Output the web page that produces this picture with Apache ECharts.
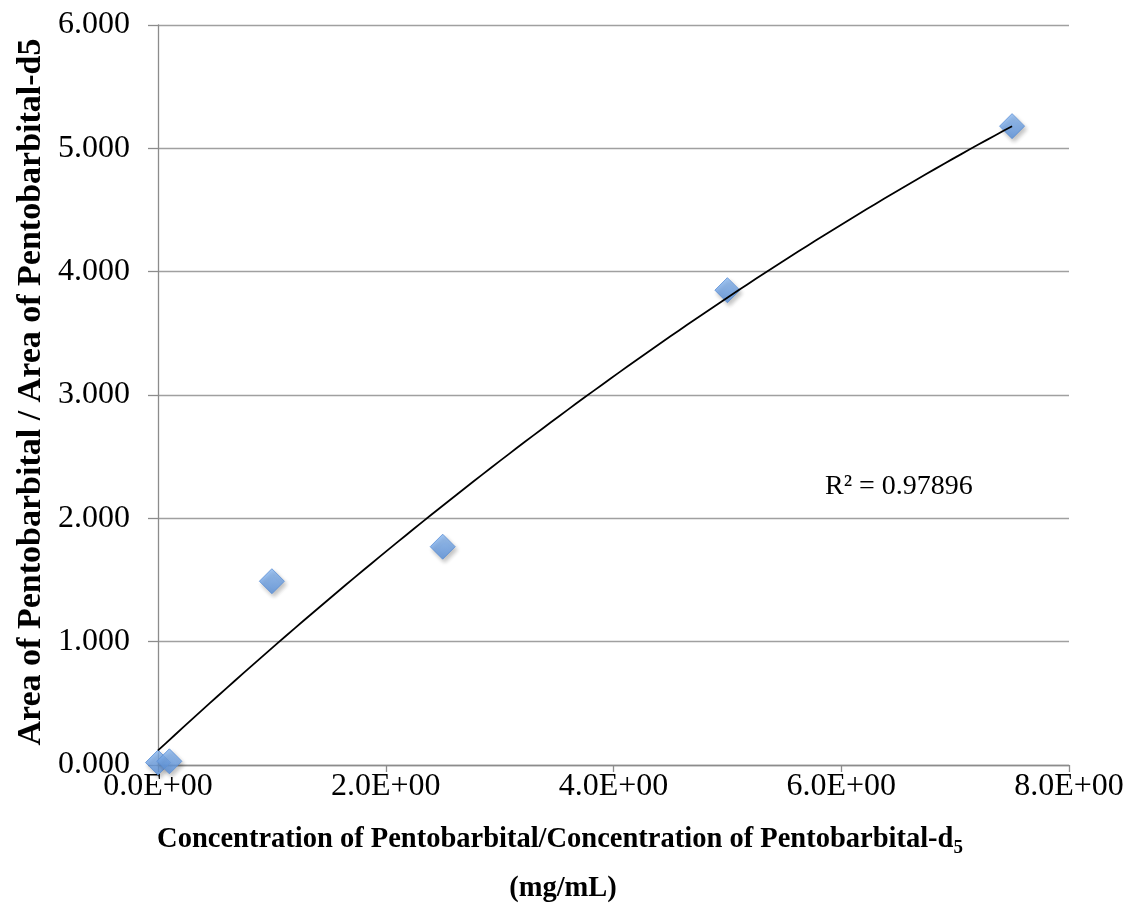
<!DOCTYPE html>
<html><head><meta charset="utf-8">
<script src="https://cdn.jsdelivr.net/npm/echarts@6/dist/echarts.min.js"></script>
<style>html,body{margin:0;padding:0;background:#fff}#c{width:1127px;height:920px}</style>
</head><body><div id="c"></div>
<script>
const xValues = [0, 0.1, 1.0, 2.5, 5.0, 7.5];
const yValues = [0.02, 0.03, 1.49, 1.77, 3.85, 5.18];
const xTickLabels = ['0.0E+00', '2.0E+00', '4.0E+00', '6.0E+00', '8.0E+00'];
const rSquaredText = 'R² = 0.97896';
const xTitleMain = 'Concentration of Pentobarbital/Concentration of Pentobarbital-d';
const xTitleSub = '5';
const xTitleLine2 = '(mg/mL)';
const yTitle = 'Area of Pentobarbital / Area of Pentobarbital-d5';

// least-squares quadratic trendline from the data
function quadFit(xs, ys) {
  let n = xs.length, S = [0,0,0,0,0], T = [0,0,0];
  for (let i = 0; i < n; i++) {
    let p = 1;
    for (let k = 0; k < 5; k++) { S[k] += p; if (k < 3) T[k] += p * ys[i]; p *= xs[i]; }
  }
  const M = [[S[0],S[1],S[2],T[0]],[S[1],S[2],S[3],T[1]],[S[2],S[3],S[4],T[2]]];
  for (let i = 0; i < 3; i++) {
    for (let j = i + 1; j < 3; j++) {
      const f = M[j][i] / M[i][i];
      for (let k = i; k < 4; k++) M[j][k] -= f * M[i][k];
    }
  }
  const c = [0,0,0];
  for (let i = 2; i >= 0; i--) {
    let s = M[i][3];
    for (let k = i + 1; k < 3; k++) s -= M[i][k] * c[k];
    c[i] = s / M[i][i];
  }
  return c;
}
const coef = quadFit(xValues, yValues);
const xMin = Math.min(...xValues), xMax = Math.max(...xValues);
const trend = [];
for (let i = 0; i <= 100; i++) {
  const x = xMin + (xMax - xMin) * i / 100;
  trend.push([x, coef[0] + coef[1] * x + coef[2] * x * x]);
}

const chart = echarts.init(document.getElementById('c'));
const serif = '"Liberation Serif", "Times New Roman", serif';
chart.setOption({
  animation: false,
  grid: { left: 158, right: 58, top: 25, bottom: 155 },
  xAxis: {
    type: 'value', min: 0, max: 8, interval: 2,
    axisLine: { show: true, lineStyle: { color: '#8c8c8c', width: 1.3 } },
    axisTick: { show: true, length: 7, lineStyle: { color: '#8c8c8c', width: 1.3 } },
    splitLine: { show: false },
    axisLabel: { formatter: v => xTickLabels[Math.round(v / 2)], fontFamily: serif, fontSize: 32, color: '#000', margin: 6 }
  },
  yAxis: {
    type: 'value', min: 0, max: 6, interval: 1,
    axisLine: { show: true, lineStyle: { color: '#8c8c8c', width: 1.3 } },
    axisTick: { show: true, length: 10, lineStyle: { color: '#8c8c8c', width: 1.3 } },
    splitLine: { show: true, lineStyle: { color: '#a0a0a0', width: 1.3 } },
    axisLabel: { formatter: v => v.toFixed(3), fontFamily: serif, fontSize: 32, color: '#000', margin: 28 }
  },
  series: [
    {
      type: 'line', data: trend, showSymbol: false, smooth: false,
      lineStyle: { color: '#000', width: 1.8 }, z: 3
    },
    {
      type: 'scatter', data: xValues.map((x, i) => [x, yValues[i]]),
      symbol: 'diamond', symbolSize: [25, 25],
      itemStyle: {
        color: new echarts.graphic.LinearGradient(0, 0, 0, 1, [
          { offset: 0, color: '#8cbaf2' }, { offset: 1, color: '#5890dc' }
        ]),
        borderColor: '#5a8ed6', borderWidth: 1,
        shadowColor: 'rgba(0,0,0,0.3)', shadowBlur: 4, shadowOffsetX: 2, shadowOffsetY: 3
      },
      z: 2
    }
  ],
  graphic: [
    {
      type: 'text', x: 825, y: 487,
      style: { text: rSquaredText, align: 'left', verticalAlign: 'middle',
        font: '28px ' + serif, fill: '#000' }
    },
    {
      type: 'text', x: 560, y: 840,
      style: {
        text: '{a|' + xTitleMain + '}{s|' + xTitleSub + '}',
        align: 'center', verticalAlign: 'middle',
        rich: {
          a: { fontFamily: serif, fontWeight: 'bold', fontSize: 28.5, fill: '#000', lineHeight: 34 },
          s: { fontFamily: serif, fontWeight: 'bold', fontSize: 19, fill: '#000', lineHeight: 34, padding: [16, 0, 0, 0] }
        }
      }
    },
    {
      type: 'text', x: 563, y: 889,
      style: { text: xTitleLine2, align: 'center', verticalAlign: 'middle',
        font: 'bold 28.5px ' + serif, fill: '#000' }
    },
    {
      type: 'text', x: 31, y: 392, rotation: Math.PI / 2,
      style: { text: yTitle, align: 'center', verticalAlign: 'middle',
        font: 'bold 34px ' + serif, fill: '#000' }
    }
  ]
});
</script></body></html>
